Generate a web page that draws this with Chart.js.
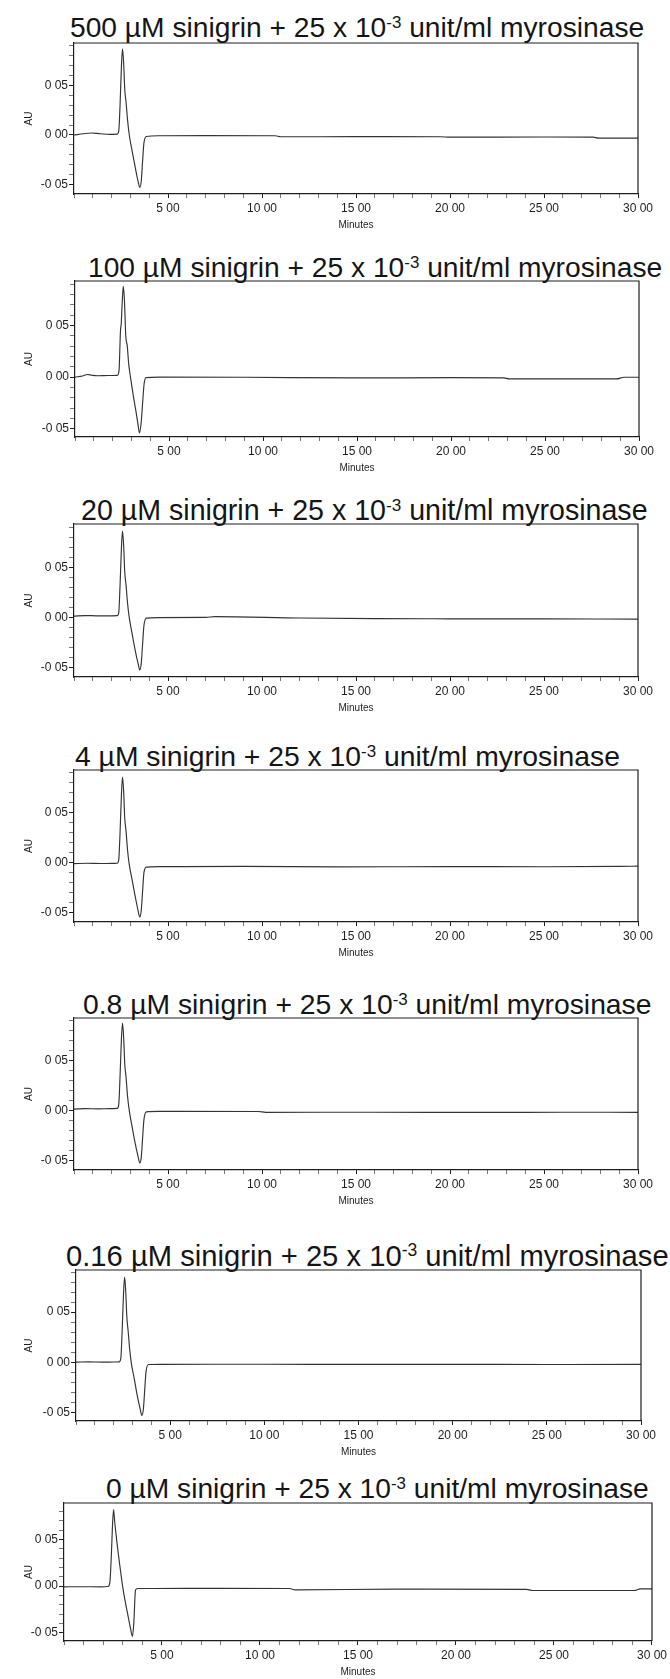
<!DOCTYPE html>
<html>
<head>
<meta charset="utf-8">
<script src="https://cdn.jsdelivr.net/npm/chart.js@4.4.0/dist/chart.umd.min.js"></script>
<style>
  body { margin: 0; background: #fff; }
  #page { position: relative; width: 670px; height: 1679px; overflow: hidden; background: #fff; }
  .ttl { position: absolute; font-family: "Liberation Sans", Arial, sans-serif; line-height: 28px; color: #151515; white-space: nowrap; }
  .ttl sup { font-size: 0.6em; position: relative; top: -0.55em; vertical-align: baseline; line-height: 0; }
  .pnl { position: absolute; left: 0; }
</style>
</head>
<body>
<div id="page"></div>
<script>
// sinigrin concentrations (µM), one chromatogram each
const concs = ['500', '100', '20', '4', '0.8', '0.16', '0'];

// retention time (min) / absorbance (AU)
const t500  = [0, 0.5, 0.9, 1.4, 1.9, 2.3, 2.38, 2.45, 2.52, 2.58, 2.64, 2.70, 2.77, 2.85, 2.94, 3.10, 3.25, 3.40, 3.50, 3.58, 3.65, 3.72, 3.85, 4.5, 7, 10.7, 11.0, 15, 19.5, 20, 25, 27.6, 27.9, 30];
const au500 = [0.0000, 0.0012, 0.0020, 0.0013, 0.0006, 0.0009, 0.004, 0.030, 0.068, 0.087, 0.073, 0.046, 0.033, 0.015, 0.000, -0.017, -0.032, -0.046, -0.053, -0.046, -0.026, -0.008, -0.0015, -0.0008, -0.0007, -0.0008, -0.0018, -0.0017, -0.0018, -0.0022, -0.0020, -0.0022, -0.0032, -0.0032];

const t100  = [0, 0.4, 0.66, 0.9, 1.2, 1.8, 2.25, 2.34, 2.42, 2.46, 2.51, 2.57, 2.63, 2.70, 2.78, 2.86, 2.95, 3.10, 3.25, 3.36, 3.43, 3.52, 3.60, 3.68, 3.78, 4.5, 9, 15, 20, 22.8, 23.1, 28.8, 29.2, 30];
const au100 = [0.0000, 0.0010, 0.0025, 0.0018, 0.0013, 0.0015, 0.0017, 0.006, 0.045, 0.052, 0.072, 0.088, 0.074, 0.040, 0.030, 0.012, 0.000, -0.018, -0.034, -0.047, -0.054, -0.044, -0.024, -0.006, -0.0005, 0.0000, -0.0002, -0.0008, -0.0006, -0.0008, -0.0018, -0.0018, -0.0002, -0.0002];

const t20   = [0, 0.6, 1.2, 1.8, 2.3, 2.38, 2.45, 2.52, 2.58, 2.64, 2.70, 2.77, 2.85, 2.94, 3.10, 3.25, 3.40, 3.50, 3.58, 3.65, 3.72, 3.85, 4.5, 7.0, 7.5, 12, 16, 20, 25, 30];
const au20  = [0.0015, 0.0020, 0.0018, 0.0018, 0.0020, 0.005, 0.032, 0.068, 0.086, 0.072, 0.045, 0.032, 0.014, 0.000, -0.017, -0.032, -0.045, -0.052, -0.045, -0.026, -0.008, -0.0005, 0.0000, 0.0002, 0.0010, -0.0004, -0.0010, -0.0012, -0.0013, -0.0015];

const t4    = [0, 0.7, 1.4, 2.0, 2.3, 2.38, 2.45, 2.52, 2.58, 2.64, 2.70, 2.77, 2.85, 2.94, 3.10, 3.25, 3.40, 3.50, 3.58, 3.65, 3.72, 3.85, 4.5, 9, 14, 20, 25, 29, 30];
const au4   = [-0.0010, -0.0006, -0.0009, -0.0008, -0.0006, 0.003, 0.030, 0.066, 0.085, 0.071, 0.044, 0.031, 0.012, -0.002, -0.018, -0.033, -0.047, -0.054, -0.047, -0.028, -0.010, -0.0045, -0.0040, -0.0038, -0.0042, -0.0040, -0.0041, -0.0038, -0.0035];

const t08   = [0, 0.6, 1.3, 1.9, 2.3, 2.38, 2.45, 2.52, 2.58, 2.64, 2.70, 2.77, 2.85, 2.94, 3.10, 3.25, 3.40, 3.50, 3.58, 3.65, 3.72, 3.85, 4.5, 9.8, 10.2, 16, 22, 26, 30];
const au08  = [0.0015, 0.0020, 0.0017, 0.0019, 0.0022, 0.006, 0.034, 0.070, 0.087, 0.073, 0.046, 0.033, 0.014, 0.000, -0.017, -0.032, -0.045, -0.052, -0.046, -0.027, -0.009, -0.0012, -0.0008, -0.0009, -0.0017, -0.0016, -0.0018, -0.0016, -0.0017];

const t016  = [0, 0.7, 1.4, 2.0, 2.3, 2.38, 2.45, 2.52, 2.58, 2.64, 2.70, 2.77, 2.85, 2.94, 3.10, 3.25, 3.40, 3.50, 3.58, 3.65, 3.72, 3.85, 4.5, 10, 15, 20, 25, 30];
const au016 = [0.0002, 0.0004, 0.0002, 0.0003, 0.0005, 0.004, 0.031, 0.067, 0.085, 0.071, 0.045, 0.031, 0.013, -0.001, -0.017, -0.033, -0.046, -0.053, -0.046, -0.027, -0.009, -0.0022, -0.0020, -0.0019, -0.0021, -0.0020, -0.0022, -0.0021];

const t0    = [0, 0.8, 1.9, 2.25, 2.34, 2.42, 2.48, 2.53, 2.59, 2.69, 2.78, 2.88, 2.99, 3.12, 3.26, 3.40, 3.49, 3.56, 3.65, 3.76, 4.5, 8, 11.5, 11.8, 17, 23.6, 23.9, 29.1, 29.4, 30];
const au0   = [-0.0007, -0.0006, -0.0007, -0.0004, 0.004, 0.035, 0.068, 0.082, 0.068, 0.049, 0.033, 0.017, 0.000, -0.016, -0.031, -0.046, -0.0536, -0.040, -0.004, -0.0025, -0.0025, -0.0023, -0.0025, -0.0040, -0.0032, -0.0034, -0.0046, -0.0046, -0.0029, -0.0029];

// axis tick values
const xMajor = [5, 10, 15, 20, 25, 30];
const yMajor = [-0.05, 0, 0.05];

const series = [[t500, au500], [t100, au100], [t20, au20], [t4, au4], [t08, au08], [t016, au016], [t0, au0]];

// panel frame on the page: plot box, y range, title left / baseline / size
const frames = [
  { top: 43,   bottom: 194,  left: 74, right: 638, ymin: -0.0596, ymax: 0.0929, tx: 70,  tb: 37,   ts: 28.2 },
  { top: 281,  bottom: 437,  left: 75, right: 639, ymin: -0.0580, ymax: 0.0930, tx: 88,  tb: 277,  ts: 28.2 },
  { top: 524,  bottom: 677,  left: 74, right: 638, ymin: -0.0590, ymax: 0.0930, tx: 81,  tb: 520,  ts: 28.6 },
  { top: 770,  bottom: 922,  left: 74, right: 638, ymin: -0.0590, ymax: 0.0920, tx: 75,  tb: 766,  ts: 28.3 },
  { top: 1018, bottom: 1170, left: 74, right: 638, ymin: -0.0590, ymax: 0.0920, tx: 83,  tb: 1014, ts: 28.3 },
  { top: 1270, bottom: 1421, left: 76, right: 641, ymin: -0.0585, ymax: 0.0920, tx: 66,  tb: 1266, ts: 29.2 },
  { top: 1503, bottom: 1641, left: 64, right: 652, ymin: -0.0586, ymax: 0.0889, tx: 106, tb: 1498, ts: 28.2 }
];

const INK = '#1e1e1e';
const tickFont = { family: '"Liberation Sans", Arial, sans-serif', size: 12 };

// top and right edges of the plot box
const boxFrame = {
  id: 'boxFrame',
  afterDraw(chart) {
    const { ctx, chartArea: a } = chart;
    ctx.save();
    ctx.strokeStyle = INK;
    ctx.lineWidth = 1.2;
    ctx.beginPath();
    ctx.moveTo(a.left, a.top);
    ctx.lineTo(a.right, a.top);
    ctx.lineTo(a.right, a.bottom);
    ctx.stroke();
    ctx.restore();
  }
};

const page = document.getElementById('page');
const isMajor = (v, list) => list.some(m => Math.abs(m - v) < 1e-6);

frames.forEach((f, i) => {
  const ttl = document.createElement('div');
  ttl.className = 'ttl';
  ttl.style.left = f.tx + 'px';
  ttl.style.fontSize = f.ts + 'px';
  ttl.style.top = (f.tb - 24) + 'px';
  ttl.innerHTML = concs[i] + ' µM sinigrin + 25 x 10<sup>-3</sup> unit/ml myrosinase';
  page.appendChild(ttl);

  const padTop = 10, xBand = 45;
  const h = (f.bottom - f.top) + padTop + xBand;
  const cv = document.createElement('canvas');
  cv.className = 'pnl';
  cv.width = 670;
  cv.height = h;
  cv.style.top = (f.top - padTop) + 'px';
  page.appendChild(cv);

  const [tArr, yArr] = series[i];
  new Chart(cv, {
    type: 'line',
    data: {
      datasets: [{
        data: tArr.map((t, k) => ({ x: t, y: yArr[k] })),
        borderColor: '#333',
        borderWidth: 1.15,
        pointRadius: 0,
        cubicInterpolationMode: 'monotone',
        fill: false
      }]
    },
    options: {
      responsive: false,
      animation: false,
      devicePixelRatio: 1,
      layout: { padding: { top: padTop, left: 0, right: 670 - f.right, bottom: 0 } },
      plugins: { legend: { display: false }, tooltip: { enabled: false } },
      scales: {
        x: {
          type: 'linear', min: 0, max: 30,
          afterFit: s => { s.height = xBand; },
          border: { display: true, color: INK, width: 1.2 },
          grid: {
            drawOnChartArea: false, drawTicks: true, tickLength: 4,
            tickColor: c => isMajor(c.tick.value, xMajor) ? INK : '#777'
          },
          ticks: {
            stepSize: 1, autoSkip: false, maxRotation: 0, padding: 3, color: INK, font: tickFont,
            callback: v => isMajor(v, xMajor) ? v + ' 00' : ''
          },
          title: { display: true, text: 'Minutes', color: INK, padding: { top: 0, bottom: 8 },
                   font: { family: '"Liberation Sans", Arial, sans-serif', size: 10 } }
        },
        y: {
          min: f.ymin, max: f.ymax,
          afterFit: s => { s.width = f.left; },
          border: { display: true, color: INK, width: 1.2 },
          grid: {
            drawOnChartArea: false, drawTicks: true, tickLength: 5,
            tickColor: c => isMajor(c.tick.value, yMajor) ? INK : '#777'
          },
          ticks: {
            stepSize: 0.01, includeBounds: false, autoSkip: false, padding: 1, color: INK, font: tickFont,
            callback: v => isMajor(v, yMajor) ? v.toFixed(2).replace('.', ' ') : ''
          },
          title: { display: true, text: 'AU', color: INK, padding: { top: 23, bottom: 0 },
                   font: { family: '"Liberation Sans", Arial, sans-serif', size: 10 } }
        }
      }
    },
    plugins: [boxFrame]
  });
});
</script>
</body>
</html>
